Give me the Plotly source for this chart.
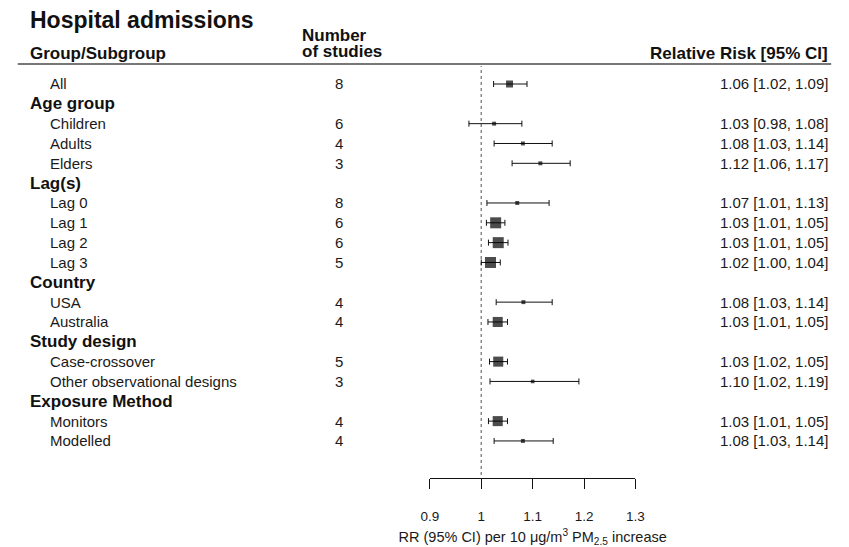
import plotly.graph_objects as go

# ---------------- data ----------------
labels = ["All", "Age group", "Children", "Adults", "Elders", "Lag(s)", "Lag 0", "Lag 1",
          "Lag 2", "Lag 3", "Country", "USA", "Australia", "Study design", "Case-crossover",
          "Other observational designs", "Exposure Method", "Monitors", "Modelled"]
is_header = [False, True, False, False, False, True, False, False, False, False, True,
             False, False, True, False, False, True, False, False]
n_studies = [8, None, 6, 4, 3, None, 8, 6, 6, 5, None, 4, 4, None, 5, 3, None, 4, 4]
rr = [1.055, None, 1.025, 1.081, 1.115, None, 1.070, 1.028, 1.033, 1.018, None, 1.082,
      1.032, None, 1.033, 1.100, None, 1.032, 1.081]
rr_lo = [1.024, None, 0.976, 1.025, 1.060, None, 1.011, 1.010, 1.014, 1.000, None, 1.029,
         1.013, None, 1.016, 1.017, None, 1.014, 1.025]
rr_hi = [1.089, None, 1.079, 1.138, 1.173, None, 1.132, 1.046, 1.052, 1.037, None, 1.138,
         1.051, None, 1.051, 1.190, None, 1.051, 1.140]
weight = [50, None, 12, 12, 12, None, 12, 100, 100, 100, None, 12, 88, None, 88, 8, None, 88, 12]
rr_text = ["1.06 [1.02, 1.09]", "", "1.03 [0.98, 1.08]", "1.08 [1.03, 1.14]", "1.12 [1.06, 1.17]",
           "", "1.07 [1.01, 1.13]", "1.03 [1.01, 1.05]", "1.03 [1.01, 1.05]", "1.02 [1.00, 1.04]",
           "", "1.08 [1.03, 1.14]", "1.03 [1.01, 1.05]", "", "1.03 [1.02, 1.05]",
           "1.10 [1.02, 1.19]", "", "1.03 [1.01, 1.05]", "1.08 [1.03, 1.14]"]
x_ticks = [0.9, 1.0, 1.1, 1.2, 1.3]
x_ticktext = ["0.9", "1", "1.1", "1.2", "1.3"]
null_value = 1.0

# ---------------- layout helpers ----------------
W, H = 849, 547
FONT = "Liberation Sans, Arial, Helvetica, sans-serif"
TXT = "#1a1a1a"

def py(px):  # pixel row -> paper y
    return 1 - px / H

def pxx(px):
    return px / W

rows = list(range(len(labels)))
data_idx = [i for i in rows if not is_header[i]]

fig = go.Figure()
fig.add_trace(go.Scatter(
    x=[rr[i] for i in data_idx],
    y=[i for i in data_idx],
    mode="markers",
    marker=dict(symbol="square", color="black",
                size=[3 + 8 * weight[i] / 100 for i in data_idx], line=dict(width=0)),
    error_x=dict(type="data", symmetric=False,
                 array=[rr_hi[i] - rr[i] for i in data_idx],
                 arrayminus=[rr[i] - rr_lo[i] for i in data_idx],
                 color="#111111", thickness=1, width=3),
    showlegend=False, hoverinfo="skip", cliponaxis=False,
))

y_bottom_px, y_top_px = 478, 64
row0_px, row_step = 84, 19.83
r_bottom = (y_bottom_px - row0_px) / row_step
r_top = (y_top_px - row0_px) / row_step

annotations = []
# title and headers
annotations.append(dict(text="<b>Hospital admissions</b>", x=pxx(19), y=py(20), xref="paper", yref="paper",
                        xanchor="left", yanchor="middle", showarrow=False, font=dict(size=23, color="#111", family=FONT)))
annotations.append(dict(text="<b>Group/Subgroup</b>", x=pxx(19), y=py(53), xref="paper", yref="paper",
                        xanchor="left", yanchor="middle", showarrow=False, font=dict(size=17, color="#111", family=FONT)))
annotations.append(dict(text="<b>Number</b>", x=pxx(297), y=py(35.5), xref="paper", yref="paper",
                        xanchor="left", yanchor="middle", showarrow=False, font=dict(size=17, color="#111", family=FONT)))
annotations.append(dict(text="<b>of studies</b>", x=pxx(297), y=py(52), xref="paper", yref="paper",
                        xanchor="left", yanchor="middle", showarrow=False, font=dict(size=17, color="#111", family=FONT)))
annotations.append(dict(text="<b>Relative Risk [95% CI]</b>", x=pxx(839), y=py(53), xref="paper", yref="paper",
                        xanchor="right", yanchor="middle", showarrow=False, font=dict(size=17, color="#111", family=FONT)))

for i in rows:
    if is_header[i]:
        annotations.append(dict(text=f"<b>{labels[i]}</b>", x=pxx(19), y=i, xref="paper", yref="y",
                                xanchor="left", yanchor="middle", showarrow=False,
                                font=dict(size=17, color="#111", family=FONT)))
    else:
        annotations.append(dict(text=labels[i], x=pxx(40), y=i, xref="paper", yref="y",
                                xanchor="left", yanchor="middle", showarrow=False,
                                font=dict(size=15, color=TXT, family=FONT)))
        annotations.append(dict(text=str(n_studies[i]), x=pxx(337), y=i, xref="paper", yref="y",
                                xanchor="center", yanchor="middle", showarrow=False,
                                font=dict(size=15, color=TXT, family=FONT)))
        annotations.append(dict(text=rr_text[i], x=pxx(839), y=i, xref="paper", yref="y",
                                xanchor="right", yanchor="middle", showarrow=False,
                                font=dict(size=15, color=TXT, family=FONT)))

shapes = [
    # header rule
    dict(type="line", xref="paper", yref="paper", x0=pxx(9), x1=pxx(840), y0=py(64), y1=py(64),
         line=dict(color="#777777", width=2)),
    # null line
    dict(type="line", xref="x", yref="paper", x0=null_value, x1=null_value, y0=py(475), y1=py(66),
         line=dict(color="#888888", width=1.5, dash="dot"), layer="below"),
]

fig.update_layout(
    width=W, height=H, margin=dict(l=0, r=0, t=0, b=0),
    paper_bgcolor="white", plot_bgcolor="white",
    font=dict(family=FONT, color=TXT),
    annotations=annotations, shapes=shapes,
    xaxis=dict(domain=[pxx(430), pxx(640)], range=[0.9, 1.3], tickvals=x_ticks, ticktext=x_ticktext,
               showline=True, linecolor="#111", linewidth=1.2, ticks="outside", ticklen=10,
               tickcolor="#111", tickwidth=1.2, showgrid=False, zeroline=False,
               tickfont=dict(size=13.5, color=TXT, family=FONT), ticklabelstandoff=16,
               title=dict(text="RR (95% CI) per 10 \u03bcg/m<sup>3</sup> PM<sub>2.5</sub> increase",
                          font=dict(size=14.5, color=TXT, family=FONT), standoff=10)),
    yaxis=dict(domain=[py(y_bottom_px), py(y_top_px)], range=[r_bottom, r_top], visible=False),
)

fig.write_html("out.html")
